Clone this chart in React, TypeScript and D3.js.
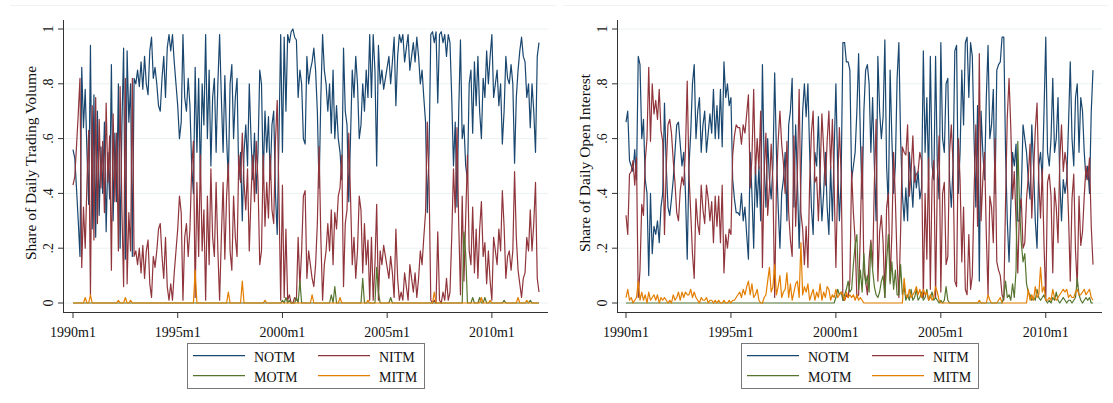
import React from 'react';
import * as d3 from 'd3';

// monthly index: 0 = 1990m1 ... 267 = 2012m4
const xTickMonths = [0, 60, 120, 180, 240];
const yTickValues = [0, 0.2, 0.4, 0.6, 0.8, 1];
const seriesNames = ['NOTM', 'NITM', 'MOTM', 'MITM'];

// Share of daily trading volume
const volNOTM = [
  .56,.53,.42,.30,.17,.86,.64,.78,.55,.36,.94,.27,
  .76,.24,.70,.32,.57,.40,.66,.26,.55,.38,.87,.30,
  .62,.37,.80,.20,.64,.93,.16,.92,.66,.80,.17,.82,
  .80,.85,.79,.88,.78,.90,.80,.76,.92,.97,.82,.86,
  .80,.72,.70,.82,.90,.75,.93,.98,.92,.98,.88,.80,
  .72,.60,.66,.98,.75,.70,.82,.72,.50,.40,.86,.55,
  .82,.45,.80,.65,.98,.60,.85,.50,.75,.82,.55,.80,
  .98,.75,.55,.83,.60,.45,.80,.87,.60,.75,.82,.45,
  .55,.30,.55,.65,.50,.80,.60,.45,.62,.40,.55,.85,
  .80,.45,.70,.55,.68,.45,.65,.70,.40,.25,.60,.98,
  .55,.97,.70,.98,.95,.99,1.0,.97,.96,.75,.85,.80,
  .60,.58,.90,.80,.85,.88,.93,.85,.70,.42,.75,.98,
  .85,.80,.70,.80,.62,.85,.60,.72,.60,.55,.45,.93,
  .70,.65,.37,.60,.85,.75,.90,.80,.60,.65,.80,.70,
  .85,.75,.98,.75,.98,.85,.50,.94,.80,.85,.78,.82,
  .86,.90,.80,.88,.97,.72,.90,.98,.95,.98,.88,.93,
  .98,.85,.90,.95,.88,.97,.90,.80,.85,.75,.66,.33,
  .55,.98,.99,.95,.99,.73,.98,.99,.95,.98,.90,.98,
  .95,.75,.50,.66,.35,.70,.96,.60,.65,.50,.45,.80,
  .85,.62,.88,.72,.90,.70,.60,.82,.75,.92,.80,.90,
  .98,.75,.80,.85,.72,.80,.58,.70,.90,.82,.80,.87,
  .80,.51,.75,.85,.92,.97,.90,.88,.75,.80,.64,.80,
  .70,.55,.90,.95,
];
const volNITM = [
  .43,.46,.57,.69,.82,.13,.35,.20,.44,.63,.03,.72,
  .23,.75,.29,.67,.42,.59,.33,.73,.44,.61,.12,.69,
  .37,.62,.19,.79,.35,.06,.82,.07,.33,.19,.82,.17,
  .19,.14,.20,.11,.21,.09,.19,.23,.07,.02,.17,.13,
  .19,.27,.29,.17,.09,.24,.06,.01,.07,.01,.11,.19,
  .27,.39,.33,.01,.24,.29,.17,.27,.49,.59,.02,.44,
  .17,.54,.19,.34,.01,.39,.14,.49,.24,.17,.44,.19,
  .01,.24,.44,.16,.39,.51,.19,.12,.39,.24,.17,.54,
  .44,.62,.44,.34,.49,.19,.39,.54,.37,.59,.44,.14,
  .19,.54,.28,.44,.31,.54,.34,.29,.59,.74,.39,.01,
  .43,.02,.27,.01,.03,.00,.00,.02,.01,.24,.06,.19,
  .39,.41,.09,.19,.14,.09,.06,.14,.29,.57,.24,.01,
  .14,.19,.29,.19,.34,.14,.33,.27,.39,.42,.54,.06,
  .29,.34,.62,.39,.14,.24,.09,.19,.39,.34,.11,.29,
  .14,.23,.01,.24,.01,.14,.36,.01,.19,.14,.21,.17,
  .13,.09,.17,.11,.02,.27,.09,.01,.04,.01,.11,.06,
  .01,.14,.09,.04,.11,.02,.09,.19,.14,.24,.33,.66,
  .44,.01,.00,.01,.00,.26,.01,.00,.04,.01,.09,.01,
  .04,.24,.49,.33,.64,.29,.03,.39,.08,.31,.54,.19,
  .14,.35,.11,.27,.09,.27,.37,.17,.22,.07,.19,.08,
  .01,.24,.19,.14,.27,.19,.41,.28,.09,.17,.19,.12,
  .19,.48,.24,.12,.07,.02,.09,.11,.24,.19,.34,.19,
  .29,.44,.09,.04,
];
const volMOTM = [
  0,0,0,0,0,0,0,0,0,0,0,0,
  0,0,0,0,0,0,0,0,0,0,0,0,
  0,0,0,0,0,0,0,0,0,0,0,0,
  0,0,0,0,0,0,0,0,0,0,0,0,
  0,0,0,0,0,0,0,0,0,0,0,0,
  0,0,0,0,0,0,0,0,0,0,0,0,
  0,0,0,0,0,0,0,0,0,0,0,0,
  0,0,0,0,0,0,0,0,0,0,0,0,
  0,0,0,0,0,0,0,0,0,0,0,0,
  0,0,0,0,0,0,0,0,0,0,0,0,
  .01,0,.02,0,.01,0,0,0,.02,0,.08,0,
  0,0,0,0,0,0,0,0,0,0,0,0,
  0,0,0,0,.03,0,.06,0,0,0,0,0,
  0,0,0,0,0,0,0,0,0,0,.09,0,
  0,0,0,0,0,0,.13,.04,0,0,0,0,
  0,0,.02,0,0,0,0,0,0,0,0,0,
  0,0,0,0,0,0,0,0,0,0,0,0,
  0,0,0,0,0,0,0,0,0,0,0,0,
  0,0,0,0,0,0,0,0,.26,.18,0,0,
  0,.02,0,0,0,.02,0,0,.02,0,0,0,
  0,0,0,0,0,0,0,.01,0,0,0,0,
  0,0,0,0,0,0,0,0,0,0,.01,0,
  0,0,0,0,
];
const volMITM = [
  0,0,0,0,0,0,0,.02,0,0,.03,0,
  0,0,0,0,0,0,0,0,0,0,0,0,
  0,0,.01,0,0,0,.02,0,0,.01,0,0,
  0,0,0,0,0,0,0,0,0,0,0,0,
  0,0,0,0,0,0,0,0,0,0,0,0,
  0,0,0,0,0,0,0,0,0,0,.12,0,
  0,0,0,0,0,0,0,0,0,0,0,0,
  0,0,0,0,0,.04,0,0,0,0,0,0,
  0,.08,0,0,0,0,0,0,0,0,0,0,
  0,0,.01,0,0,0,0,0,0,0,0,0,
  0,0,0,0,0,0,0,0,0,0,0,0,
  0,0,0,0,0,.03,0,0,0,0,0,0,
  0,0,0,0,0,0,0,0,0,.02,0,0,
  0,0,0,0,0,0,0,0,0,0,0,0,
  0,.01,0,0,0,0,0,0,0,0,0,0,
  0,0,0,0,0,0,0,0,0,0,0,0,
  0,0,0,0,0,0,0,0,0,0,0,0,
  0,0,0,.04,0,0,0,0,0,0,0,0,
  0,0,0,0,0,0,0,0,0,0,0,0,
  0,0,0,0,0,0,.02,0,0,0,0,.01,
  0,0,0,0,0,0,0,0,0,0,0,0,
  0,0,0,.02,0,0,0,0,.01,0,0,0,
  0,0,0,0,
];

// Share of daily open interest
const oiNOTM = [
  .66,.70,.52,.50,.48,.56,.45,.90,.87,.60,.67,.45,
  .40,.10,.40,.18,.28,.25,.30,.22,.35,.40,.73,.50,
  .35,.32,.38,.45,.55,.65,.66,.58,.50,.55,.40,.16,
  .50,.62,.80,.87,.60,.70,.75,.55,.65,.70,.55,.62,
  .69,.62,.78,.60,.72,.60,.78,.57,.88,.75,.80,.72,
  .75,.45,.38,.33,.33,.32,.40,.30,.35,.25,.16,.55,
  .40,.20,.50,.35,.50,.30,.87,.50,.35,.60,.45,.38,
  .50,.84,.55,.35,.20,.40,.45,.55,.30,.65,.70,.82,
  .35,.65,.45,.20,.45,.70,.80,.68,.80,.55,.35,.25,
  .55,.50,.68,.45,.30,.40,.55,.35,.25,.50,.30,.55,
  .80,.50,.30,.45,.95,.95,.88,.88,.85,.45,.50,.55,
  .70,.91,.60,.38,.70,.85,.87,.80,.55,.75,.50,.30,
  .90,.70,.60,.68,.96,.50,.35,.85,.60,.40,.50,.82,
  .95,.60,.40,.30,.42,.30,.55,.45,.35,.50,.42,.48,
  .38,.42,.92,.55,.75,.45,.90,.50,.45,.90,.50,.38,
  .95,.60,.55,.80,.82,.45,.35,.50,.92,.94,.40,.55,
  .85,.65,.95,.97,.75,.95,.90,.60,.35,.72,.08,.70,
  .55,.45,.75,.94,.60,.65,.78,.40,.85,.87,.88,.97,
  .97,.55,.30,.15,.35,.55,.50,.58,.30,.30,.40,.65,
  .60,.55,.45,.38,.65,.50,.30,.20,.50,.55,.45,.70,
  .97,.55,.50,.60,.82,.55,.60,.75,.45,.30,.45,.40,
  .45,.65,.88,.60,.50,.75,.80,.55,.75,.70,.55,.45,
  .50,.40,.70,.85,
];
const oiNITM = [
  .32,.25,.47,.48,.52,.43,.53,.02,.12,.36,.32,.52,
  .60,.86,.59,.80,.69,.74,.67,.78,.63,.59,.25,.49,
  .65,.67,.62,.52,.44,.33,.30,.41,.46,.43,.56,.81,
  .47,.33,.18,.09,.38,.29,.25,.43,.34,.29,.43,.38,
  .30,.37,.22,.39,.28,.39,.22,.43,.11,.25,.20,.27,
  .25,.54,.61,.65,.64,.64,.58,.65,.62,.69,.76,.42,
  .53,.78,.47,.60,.49,.70,.13,.48,.62,.32,.42,.58,
  .44,.02,.42,.59,.70,.58,.51,.40,.59,.33,.23,.17,
  .61,.28,.47,.78,.33,.27,.14,.28,.13,.44,.62,.70,
  .44,.46,.30,.48,.69,.56,.43,.59,.70,.49,.67,.43,
  .13,.43,.64,.47,.01,.01,.03,.02,.08,.48,.33,.23,
  .02,.03,.26,.57,.12,.08,.03,.16,.23,.13,.44,.67,
  .08,.26,.32,.22,.02,.35,.40,.08,.25,.55,.38,.15,
  .02,.26,.57,.55,.54,.65,.39,.48,.61,.44,.47,.48,
  .55,.52,.02,.40,.16,.53,.05,.45,.52,.02,.45,.61,
  .04,.40,.44,.14,.17,.55,.65,.50,.08,.06,.60,.45,
  .15,.35,.05,.03,.25,.05,.10,.40,.65,.28,.91,.30,
  .45,.55,.25,.03,.39,.35,.22,.60,.15,.12,.10,.03,
  .01,.37,.68,.82,.64,.38,.48,.30,.11,.35,.38,.20,
  .22,.38,.46,.58,.31,.47,.63,.73,.45,.31,.49,.21,
  .01,.44,.47,.39,.11,.42,.35,.22,.52,.65,.48,.55,
  .50,.32,.08,.38,.47,.19,.06,.39,.21,.26,.39,.50,
  .45,.53,.28,.14,
];
const oiMOTM = [
  0,0,0,0,0,0,0,0,0,0,0,0,
  0,0,0,0,0,0,0,0,0,0,0,0,
  0,0,0,0,0,0,0,0,0,0,0,0,
  0,0,0,0,0,0,0,0,0,0,0,0,
  0,0,0,0,0,0,0,0,0,0,0,0,
  0,0,0,0,0,0,0,0,0,0,0,0,
  0,0,0,0,0,0,0,0,0,0,0,0,
  0,0,0,0,0,0,0,0,0,0,0,0,
  0,0,0,0,0,0,0,0,0,0,0,0,
  0,0,0,0,0,0,0,0,0,0,0,0,
  .02,.05,.03,.04,.01,.03,.05,.08,.04,.05,.14,.21,
  .25,.05,.12,.04,.18,.07,.10,.04,.22,.12,.06,.03,
  .02,.04,.08,.10,.02,.15,.25,.07,.15,.05,.12,.03,
  .03,.14,.03,.06,.01,.03,.01,.05,.01,.02,.05,.01,
  .02,.04,.01,.02,.05,.01,.02,.04,.01,.02,.01,0,
  .01,0,.01,.06,.01,0,0,0,0,0,0,0,
  0,0,0,0,0,0,0,0,0,0,0,0,
  0,0,0,0,0,0,0,0,0,0,0,0,
  .02,.08,.02,.03,.01,.07,.02,.12,.59,.35,.22,.15,
  .18,.07,.04,.03,.01,.02,.01,.05,.02,.01,.02,.03,
  .01,0,.01,0,.02,.01,.04,.01,0,.01,.02,.01,
  0,.01,.01,0,.01,.02,.09,.03,.01,0,.01,.02,
  .01,.02,0,0,
];
const oiMITM = [
  .02,.05,.01,.02,0,.01,.02,.08,.01,.04,.01,.03,
  0,.04,.01,.02,.03,.01,.03,0,.02,.01,.02,.01,
  0,.01,0,.03,.01,.02,.04,.01,.04,.02,.04,.03,
  .03,.05,.02,.04,.02,.01,0,.02,.01,.01,.02,0,
  .01,.01,0,.01,0,.01,0,0,.01,0,0,.01,
  0,.01,.01,.02,.03,.04,.02,.05,.03,.06,.08,.03,
  .07,.02,.03,.05,.01,0,0,.02,.03,.08,.13,.04,
  .06,.14,.03,.06,.10,.02,.04,.05,.11,.02,.07,.01,
  .04,.07,.08,.02,.22,.03,.06,.04,.07,.01,.03,.05,
  .01,.04,.02,.07,.01,.04,.02,.06,.05,.01,.03,.02,
  .05,.02,.03,.04,.03,.01,.04,.02,.03,.02,.03,.01,
  .03,.01,.02,.01,0,0,0,0,0,0,0,0,
  0,0,0,0,0,0,0,0,0,0,0,0,
  0,0,0,.09,.03,.02,.05,.02,.03,.04,.06,.03,
  .05,.02,.05,.03,.04,.01,.03,.01,.02,.06,.04,.01,
  0,0,0,0,0,0,0,0,0,0,0,0,
  0,0,0,0,0,0,0,0,0,0,.01,0,
  0,0,0,.03,.01,0,0,0,0,.01,.02,0,
  0,0,0,0,0,0,0,0,0,0,0,0,
  0,0,.05,.01,.03,.01,.06,.02,.03,.13,.04,.06,
  .01,.01,.02,.01,.05,.02,.01,.02,.03,.04,.05,.04,
  .05,.02,.03,.02,.02,.04,.05,.03,.03,.04,.05,.03,
  .04,.05,.02,.01,
];

const colors = ['#1a476f', '#90353b', '#55752f', '#e37e00'];
const FONT = '"Liberation Serif", "Times New Roman", serif';

const fmtY = (v: number) => (v === 0 ? '0' : v === 1 ? '1' : d3.format('.1f')(v).replace(/^0/, ''));
const fmtX = (m: number) => `${1990 + m / 12}m1`;

type PanelProps = {
  axisX: number;
  xStart: number;
  xEnd: number;
  title: string;
  series: number[][];
};

function Panel({ axisX, xStart, xEnd, title, series }: PanelProps) {
  const plotRight = axisX + 485;
  const x = d3.scaleLinear().domain([0, 267]).range([xStart, xEnd]);
  const y = d3.scaleLinear().domain([0, 1]).range([303, 29]);
  const line = d3
    .line<number>()
    .x((_, i) => x(i))
    .y(d => y(d));

  const lx = axisX + 124; // legend box left
  const legendCells = [
    { col: 0, row: 0 },
    { col: 1, row: 0 },
    { col: 0, row: 1 },
    { col: 1, row: 1 },
  ];

  return (
    <g fontFamily={FONT}>
      {/* grid */}
      {yTickValues.map(v => (
        <line key={v} x1={axisX} x2={plotRight} y1={y(v)} y2={y(v)} stroke="#eaf2f3" strokeWidth={1} />
      ))}

      {/* series */}
      {series.map((s, i) => (
        <path key={i} d={line(s) || ''} fill="none" stroke={colors[i]} strokeWidth={1.2} strokeLinejoin="round" />
      ))}

      {/* y axis */}
      <line x1={axisX + 0.5} x2={axisX + 0.5} y1={20} y2={312} stroke="#333" />
      {yTickValues.map(v => (
        <g key={v}>
          <line x1={axisX - 5} x2={axisX} y1={y(v)} y2={y(v)} stroke="#333" />
          <text
            transform={`translate(${axisX - 10.5},${y(v)}) rotate(-90)`}
            textAnchor="middle"
            fontSize={14}
            fill="#111"
          >
            {fmtY(v)}
          </text>
        </g>
      ))}
      <text
        transform={`translate(${axisX - 27},163) rotate(-90)`}
        textAnchor="middle"
        fontSize={15.5}
        fill="#111"
      >
        {title}
      </text>

      {/* x axis */}
      <line x1={axisX} x2={plotRight} y1={312.5} y2={312.5} stroke="#333" />
      {xTickMonths.map(m => (
        <g key={m}>
          <line x1={x(m)} x2={x(m)} y1={312} y2={318} stroke="#333" />
          <text x={x(m)} y={336.5} textAnchor="middle" fontSize={14} fill="#111">
            {fmtX(m)}
          </text>
        </g>
      ))}

      {/* legend */}
      <rect x={lx + 0.5} y={343.5} width={237} height={45} fill="#fff" stroke="#777" />
      {legendCells.map((c, i) => {
        const x0 = lx + 6 + c.col * 125;
        const yy = 355.7 + c.row * 20;
        return (
          <g key={i}>
            <line x1={x0} x2={x0 + 52} y1={yy} y2={yy} stroke={colors[i]} strokeWidth={1.2} />
            <text x={x0 + 61} y={yy + 6.5} fontSize={14} fill="#111">
              {seriesNames[i]}
            </text>
          </g>
        );
      })}
    </g>
  );
}

export default function App() {
  return (
    <div style={{ position: 'absolute', left: 0, top: 0, background: '#fff' }}>
      <svg width={1113} height={403} style={{ display: 'block', background: '#fff' }}>
        <line x1={10} x2={556} y1={5.5} y2={5.5} stroke="#f2f2f2" />
        <line x1={563} x2={1108} y1={5.5} y2={5.5} stroke="#f2f2f2" />
        <Panel
          axisX={63}
          xStart={73}
          xEnd={539}
          title="Share of Daily Trading Volume"
          series={[volNOTM, volNITM, volMOTM, volMITM]}
        />
        <Panel
          axisX={617}
          xStart={626}
          xEnd={1093}
          title="Share of Daily Open Interest"
          series={[oiNOTM, oiNITM, oiMOTM, oiMITM]}
        />
      </svg>
    </div>
  );
}
